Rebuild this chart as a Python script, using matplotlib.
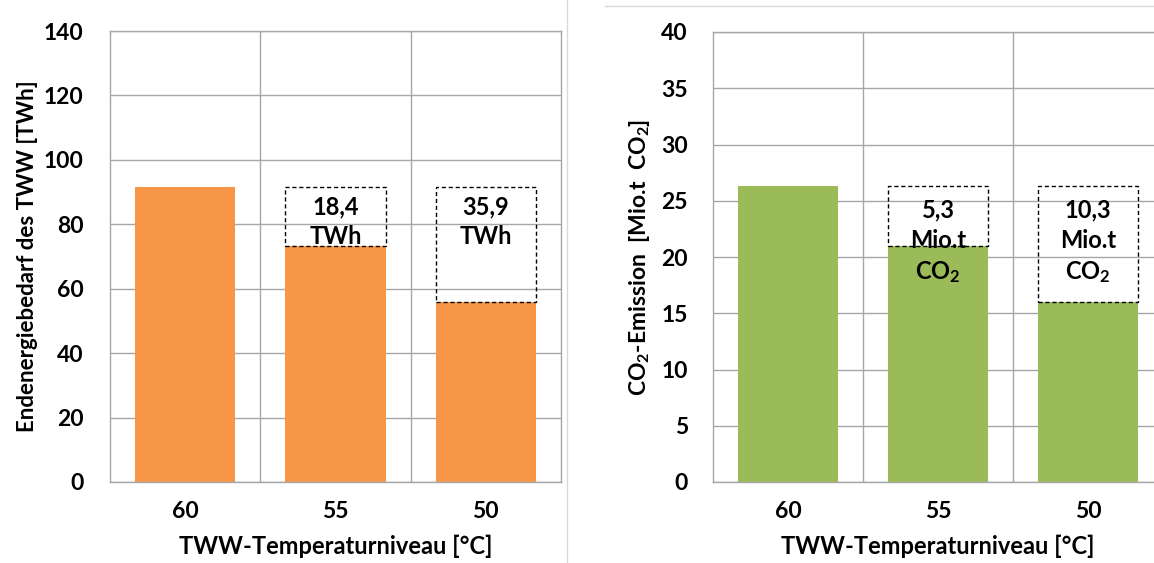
import matplotlib
matplotlib.use("Agg")
import matplotlib.pyplot as plt
from matplotlib.lines import Line2D

# Data
categories = ["60", "55", "50"]

energy_base = 91.7                       # TWh at 60 °C
energy_savings = [0.0, 18.4, 35.9]       # TWh saved vs. 60 °C
energy_labels = ["", "18,4\nTWh", "35,9\nTWh"]

co2_base = 26.3                          # Mio.t CO2 at 60 °C
co2_savings = [0.0, 5.3, 10.3]           # Mio.t CO2 saved vs. 60 °C
co2_labels = ["", "5,3\nMio.t\nCO$_{2}$", "10,3\nMio.t\nCO$_{2}$"]

energy_values = [energy_base - s for s in energy_savings]
co2_values = [co2_base - s for s in co2_savings]

plt.rcParams["font.family"] = ["Lato", "DejaVu Sans"]
plt.rcParams["font.weight"] = "bold"
plt.rcParams["mathtext.fontset"] = "custom"
plt.rcParams["mathtext.rm"] = "Lato:bold"
plt.rcParams["mathtext.it"] = "Lato:bold"
plt.rcParams["mathtext.bf"] = "Lato:bold"

W, H = 1154, 563
fig = plt.figure(figsize=(W / 100, H / 100), dpi=100)

GRID = "#a6a6a6"


def px_axes(x0, x1, y_top, y_bot):
    return fig.add_axes([x0 / W, 1 - y_bot / H, (x1 - x0) / W, (y_bot - y_top) / H])


def panel(ax, values, savings, labels, color, ymax, ystep, ylabel, ypad,
          label_spacing, label_offset, ylabel_size, ylabel_pad):
    x = range(len(categories))
    ax.set_xlim(-0.5, len(categories) - 0.5)
    ax.set_ylim(0, ymax)
    ax.set_axisbelow(True)
    ax.set_yticks([i * ystep for i in range(int(ymax / ystep) + 1)])
    ax.grid(axis="y", color=GRID, linewidth=1.0)
    for b in [0.5, 1.5]:
        ax.axvline(b, color=GRID, linewidth=1.0, zorder=0.5)
    for sp in ax.spines.values():
        sp.set_color(GRID)
        sp.set_linewidth(1.0)
    ax.bar(x, values, width=0.667, color=color, zorder=2)
    for i, (v, s, lab) in enumerate(zip(values, savings, labels)):
        if s <= 0:
            continue
        ax.bar(i, s, bottom=v, width=0.667, fill=False, edgecolor="black",
               linestyle=(0, (3, 2)), linewidth=1.0, zorder=3)
        ax.annotate(lab, xy=(i, v + s), xytext=(0, -label_offset), textcoords="offset points",
                    ha="center", va="top", fontsize=17, fontweight="bold",
                    linespacing=label_spacing, zorder=4)
    ax.set_xticks(list(x))
    ax.set_xticklabels(categories)
    ax.tick_params(axis="both", length=0, labelsize=16.5)
    ax.tick_params(axis="x", pad=14)
    ax.tick_params(axis="y", pad=ypad)
    ax.set_xlabel("TWW-Temperaturniveau [°C]", fontsize=17, fontweight="bold", labelpad=9)
    ax.set_ylabel(ylabel, fontsize=ylabel_size, fontweight="bold", labelpad=ylabel_pad)


ax1 = px_axes(110, 561, 31, 482)
panel(ax1, energy_values, energy_savings, energy_labels, "#F79646", 140, 20,
      "Endenergiebedarf des TWW [TWh]", 19, 1.35, 6.5, 16, 4)

ax2 = px_axes(713, 1163, 32, 482)
panel(ax2, co2_values, co2_savings, co2_labels, "#9BBB59", 40, 5,
      "CO$_{2}$-Emission  [Mio.t  CO$_{2}$]", 18, 1.4, 8.5, 16.5, 7)

# Frame lines between the two charts
fig.add_artist(Line2D([567 / W, 567 / W], [0, 1], color="#d9d9d9", linewidth=1.0))
fig.add_artist(Line2D([605 / W, 1], [1 - 6 / H, 1 - 6 / H], color="#d9d9d9", linewidth=1.0))

fig.savefig("out.png", dpi=100)
